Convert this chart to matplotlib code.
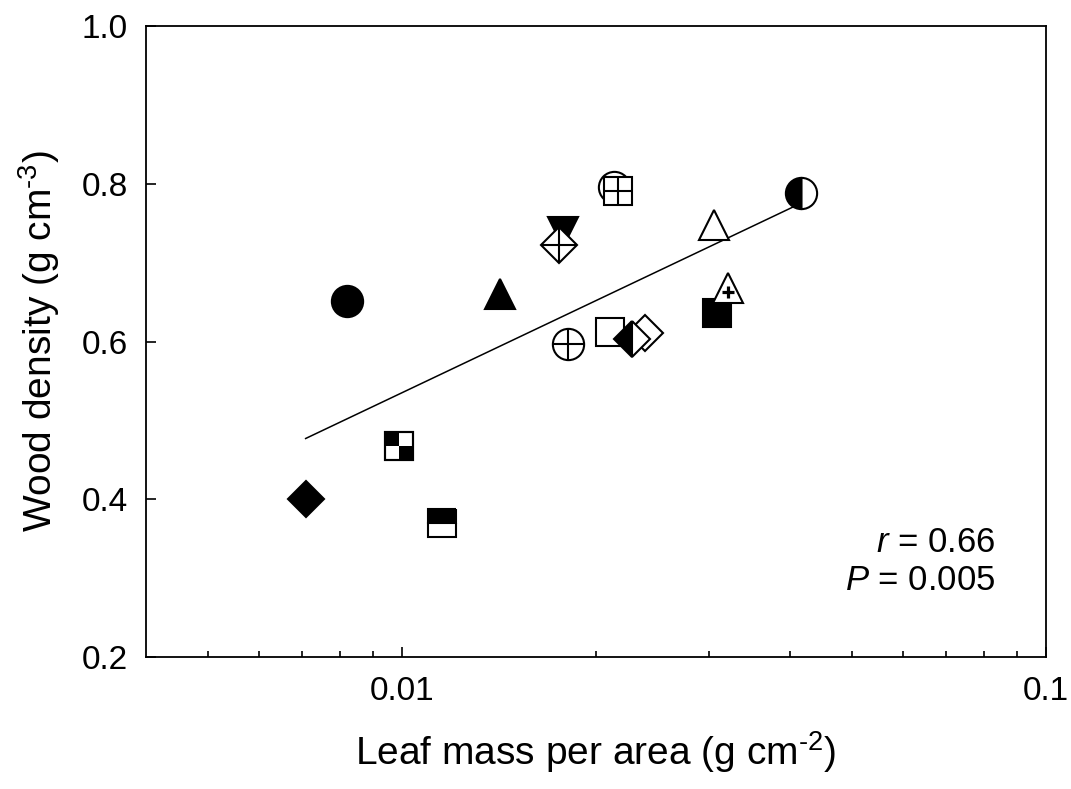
import numpy as np
import matplotlib
matplotlib.use("Agg")
import matplotlib.pyplot as plt
import matplotlib.transforms as mtransforms
from matplotlib.path import Path
from matplotlib.ticker import FixedLocator, FixedFormatter, NullFormatter

plt.rcParams['font.family'] = ['Liberation Sans', 'DejaVu Sans']
plt.rcParams['mathtext.fontset'] = 'custom'
plt.rcParams['mathtext.rm'] = 'Liberation Sans'
plt.rcParams['mathtext.it'] = 'Liberation Sans:italic'

# donnees (ordre = ordre de trace)
lma = [0.00820, 0.00708, 0.00990, 0.01151, 0.01419, 0.01779, 0.01749, 0.01809,
       0.02131, 0.02166, 0.02104, 0.02386, 0.02273, 0.03051, 0.03084, 0.03211, 0.04160]
wd = [0.651, 0.400, 0.467, 0.370, 0.660, 0.739, 0.723, 0.597,
      0.796, 0.791, 0.612, 0.611, 0.603, 0.748, 0.636, 0.668, 0.788]
styles = ['circle_filled', 'diamond_filled', 'checker', 'half_square_top', 'tri_up_filled',
          'tri_down_filled', 'diamond_cross', 'circle_cross', 'circle_open', 'square_grid',
          'square_open', 'diamond_open', 'diamond_half', 'tri_up_open', 'square_filled',
          'tri_up_plus', 'circle_half']

x_ticks = [0.01, 0.1]
x_ticklabels = ['0.01', '0.1']
x_minor = [0.005, 0.006, 0.007, 0.008, 0.009, 0.02, 0.03, 0.04, 0.05, 0.06, 0.07, 0.08, 0.09]
y_ticks = [0.2, 0.4, 0.6, 0.8, 1.0]
y_ticklabels = ['0.2', '0.4', '0.6', '0.8', '1.0']
stats = [r'$r$ = 0.66', r'$P$ = 0.005']

fig = plt.figure(figsize=(10.71, 7.89), dpi=100)
ax = fig.add_axes([0.1363, 0.1673, 0.8404, 0.7997])

# droite de regression (y ~ log10 x)
logx = np.log10(lma)
coef = np.polyfit(logx, wd, 1)
xs = np.array([min(lma), max(lma)])
ax.plot(xs, coef[0] * np.log10(xs) + coef[1], color='black', lw=1.1, zorder=2)

ms_c = 22.5
ms_s = 19.5
ms_d = 18.5
ms_t = 21.5
mew = 1.5

q_tl = Path([(-1, 0), (0, 0), (0, 1), (-1, 1), (-1, 0)])
q_br = Path([(0, -1), (1, -1), (1, 0), (0, 0), (0, -1)])

plus_shift = ax.transData + mtransforms.ScaledTranslation(0, -3.2 / 72, fig.dpi_scale_trans)


def mk(x, y, m, ms, fc='white', z=3, **kw):
    ax.plot([x], [y], linestyle='none', marker=m, markersize=ms, markerfacecolor=fc,
            markeredgecolor='black', markeredgewidth=kw.pop('mew', mew), zorder=z, **kw)


for i, (x, y, st) in enumerate(zip(lma, wd, styles)):
    z = 3 + i * 0.01
    if st == 'circle_filled':
        mk(x, y, 'o', ms_c, 'black', z)
    elif st == 'circle_open':
        mk(x, y, 'o', ms_c, 'white', z)
    elif st == 'circle_cross':
        mk(x, y, 'o', ms_c, 'white', z)
        mk(x, y, '+', ms_c, 'none', z)
    elif st == 'circle_half':
        mk(x, y, 'o', ms_c, 'black', z, fillstyle='left', markerfacecoloralt='white')
    elif st == 'diamond_filled':
        mk(x, y, 'D', ms_d, 'black', z)
    elif st == 'diamond_open':
        mk(x, y, 'D', ms_d, 'white', z)
    elif st == 'diamond_cross':
        mk(x, y, 'D', ms_d, 'white', z)
        mk(x, y, '+', ms_d * np.sqrt(2), 'none', z)
    elif st == 'diamond_half':
        mk(x, y, 'D', ms_d, 'black', z, fillstyle='left', markerfacecoloralt='white')
    elif st == 'square_filled':
        mk(x, y, 's', ms_s, 'black', z)
    elif st == 'square_open':
        mk(x, y, 's', ms_s, 'white', z)
    elif st == 'square_grid':
        mk(x, y, 's', ms_s, 'white', z)
        mk(x, y, '+', ms_s, 'none', z)
    elif st == 'half_square_top':
        mk(x, y, 's', ms_s, 'black', z, fillstyle='top', markerfacecoloralt='white')
    elif st == 'checker':
        mk(x, y, 's', ms_s, 'white', z)
        mk(x, y, q_tl, ms_s, 'black', z, mew=0)
        mk(x, y, q_br, ms_s, 'black', z, mew=0)
        mk(x, y, 's', ms_s, 'none', z)
    elif st == 'tri_up_filled':
        mk(x, y, '^', ms_t, 'black', z)
    elif st == 'tri_down_filled':
        mk(x, y, 'v', ms_t, 'black', z)
    elif st == 'tri_up_open':
        mk(x, y, '^', ms_t, 'white', z)
    elif st == 'tri_up_plus':
        mk(x, y, '^', ms_t, 'white', z)
        ax.plot([x], [y], linestyle='none', marker='+', markersize=8.5, markeredgecolor='black',
                markeredgewidth=2.3, zorder=z, transform=plus_shift)

ax.set_xscale('log')
ax.set_xlim(0.004, 0.1)
ax.set_ylim(0.2, 1.0)
ax.xaxis.set_major_locator(FixedLocator(x_ticks))
ax.xaxis.set_major_formatter(FixedFormatter(x_ticklabels))
ax.xaxis.set_minor_locator(FixedLocator(x_minor))
ax.xaxis.set_minor_formatter(NullFormatter())
ax.yaxis.set_major_locator(FixedLocator(y_ticks))
ax.yaxis.set_major_formatter(FixedFormatter(y_ticklabels))
ax.yaxis.set_minor_locator(FixedLocator([]))

ax.tick_params(which='both', direction='in', top=False, right=False, width=1.2, labelsize=24)
ax.tick_params(which='major', length=7.5)
ax.tick_params(which='minor', length=4)
ax.tick_params(axis='x', pad=14)
ax.tick_params(axis='y', pad=13)
for sp in ax.spines.values():
    sp.set_linewidth(1.3)

ax.set_xlabel(r'Leaf mass per area (g cm$^{\text{-}2}$)', fontsize=28, labelpad=16)
ax.set_ylabel(r'Wood density (g cm$^{\text{-}3}$)', fontsize=28, labelpad=14)

ax.text(0.944, 0.181, stats[0], transform=ax.transAxes, ha='right', va='center', fontsize=25)
ax.text(0.944, 0.122, stats[1], transform=ax.transAxes, ha='right', va='center', fontsize=25)

fig.savefig('out.png', dpi=100)
